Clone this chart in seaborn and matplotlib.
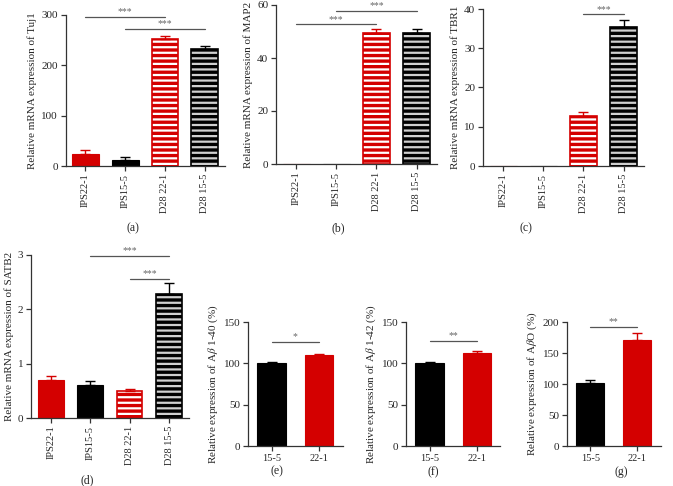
import matplotlib
matplotlib.use('Agg')
import matplotlib.pyplot as plt
from matplotlib.patches import Rectangle
import seaborn as sns
import numpy as np

# data
groups4 = ["IPS22-1", "IPS15-5", "D28 22-1", "D28 15-5"]
groups2 = ["15-5", "22-1"]

tuj1_mean = [24, 11, 253, 232]
tuj1_err = [7, 7, 6, 6]
map2_mean = [0, 0, 49.6, 49.6]
map2_err = [0, 0, 1.3, 1.3]
tbr1_mean = [0, 0, 12.8, 35.5]
tbr1_err = [0, 0, 0.9, 1.7]
satb2_mean = [0.70, 0.61, 0.49, 2.28]
satb2_err = [0.08, 0.07, 0.04, 0.20]

ab40_mean = [100, 110]
ab40_err = [1.5, 1.5]
ab42_mean = [100, 113]
ab42_err = [1.2, 1.6]
abo_mean = [101, 171]
abo_err = [6, 11]

# significance brackets: (from, to, height, stars)
tuj1_sig = [(0, 2, 296, "***"), (1, 3, 272, "***")]
map2_sig = [(0, 2, 52.7, "***"), (1, 3, 57.7, "***")]
tbr1_sig = [(2, 3, 38.6, "***")]
satb2_sig = [(1, 3, 2.98, "***"), (2, 3, 2.56, "***")]
ab40_sig = [(0, 1, 126, "*")]
ab42_sig = [(0, 1, 127, "**")]
abo_sig = [(0, 1, 192, "**")]

RED = "#d40000"
BLACK = "#000000"
colors4 = [RED, BLACK, RED, BLACK]
striped4 = [False, False, True, True]
colors2 = [BLACK, RED]
striped2 = [False, False]

sns.set_style("ticks")
plt.rcParams['font.family'] = ['Liberation Serif', 'DejaVu Serif']
plt.rcParams['mathtext.fontset'] = 'stix'
plt.rcParams['hatch.linewidth'] = 1.6
plt.rcParams['axes.edgecolor'] = '#333333'
plt.rcParams['axes.linewidth'] = 0.9

W, H = 673, 486
fig = plt.figure(figsize=(W / 100, H / 100), dpi=100)


def make_ax(left, top, bottom, xlim, ppu):
    width = (xlim[1] - xlim[0]) * ppu
    ax = fig.add_axes([left / W, 1 - bottom / H, width / W, (bottom - top) / H])
    ax.set_xlim(*xlim)
    return ax


def panel(ax, cats, means, errs, colors, striped, ylim, yticks, ylabel, sigs,
          bar_width, rotate):
    sns.barplot(x=cats, y=means, hue=cats, palette=colors, ax=ax, errorbar=None,
                legend=False, saturation=1, width=bar_width, order=cats, hue_order=cats)
    bars = sorted(ax.patches, key=lambda p: p.get_x())
    for p, c, s in zip(bars, colors, striped):
        p.set_facecolor(c)
        if s:
            stripe = "white" if c == RED else "#d0d0d0"
            p.set_hatch('---')
            p.set_edgecolor(stripe)
            p.set_linewidth(0)
            ax.add_patch(Rectangle(p.get_xy(), p.get_width(), p.get_height(),
                                   fill=False, ec=c, lw=1.2, zorder=p.get_zorder() + 0.1))
        else:
            p.set_edgecolor(c)
            p.set_linewidth(0.8)
    for i, (m, e, c) in enumerate(zip(means, errs, colors)):
        if e > 0:
            ax.errorbar(i, m, yerr=[[0], [e]], fmt='none', ecolor=c,
                        elinewidth=1.0, capsize=3.5, capthick=1.0, zorder=5)
    for x1, x2, y, stars in sigs:
        ax.plot([x1, x2], [y, y], color='#555555', lw=0.9, clip_on=False)
        ax.annotate(stars, ((x1 + x2) / 2, y), xytext=(0, 0.5), textcoords='offset points',
                    ha='center', va='bottom', fontsize=7, color='#666666',
                    annotation_clip=False)
    ax.set_ylim(*ylim)
    ax.set_yticks(yticks)
    ax.set_ylabel(ylabel, fontsize=8, labelpad=3)
    ax.set_xlabel("")
    ax.tick_params(axis='both', direction='out', length=3.5, width=0.9,
                   color='#333333', labelsize=7.5, pad=2)
    ax.tick_params(axis='y', labelsize=8)
    if rotate:
        ax.tick_params(axis='x', labelrotation=90)
    sns.despine(ax=ax)


ax_a = make_ax(65.5, 15, 166, (-0.55, 3.38), 40.5)
panel(ax_a, groups4, tuj1_mean, tuj1_err, colors4, striped4, (0, 300), [0, 100, 200, 300],
      "Relative mRNA expression of Tuj1", tuj1_sig, 0.67, True)

ax_b = make_ax(276, 5, 164, (-0.52, 3.45), 40.5)
panel(ax_b, groups4, map2_mean, map2_err, colors4, striped4, (0, 60), [0, 20, 40, 60],
      "Relative mRNA expression of MAP2", map2_sig, 0.67, True)

ax_c = make_ax(483, 9, 166, (-0.54, 3.38), 41)
panel(ax_c, groups4, tbr1_mean, tbr1_err, colors4, striped4, (0, 40), [0, 10, 20, 30, 40],
      "Relative mRNA expression of TBR1", tbr1_sig, 0.67, True)

ax_d = make_ax(31, 255, 418, (-0.5, 3.35), 41)
panel(ax_d, groups4, satb2_mean, satb2_err, colors4, striped4, (0, 3), [0, 1, 2, 3],
      "Relative mRNA expression of SATB2", satb2_sig, 0.65, True)

ax_e = make_ax(248, 322, 446, (-0.66, 1.42), 45.5)
panel(ax_e, groups2, ab40_mean, ab40_err, colors2, striped2, (0, 150), [0, 50, 100, 150],
      r"Relative expression of A$\beta$ 1-40 (%)", ab40_sig, 0.6, False)

ax_f = make_ax(406, 322, 446, (-0.7, 1.4), 45)
panel(ax_f, groups2, ab42_mean, ab42_err, colors2, striped2, (0, 150), [0, 50, 100, 150],
      r"Relative expression of A$\beta$ 1-42 (%)", ab42_sig, 0.6, False)

ax_g = make_ax(567, 322, 446, (-0.68, 1.4), 45)
panel(ax_g, groups2, abo_mean, abo_err, colors2, striped2, (0, 200), [0, 50, 100, 150, 200],
      r"Relative expression of A$\beta$O (%)", abo_sig, 0.6, False)

for lab, x, y in [("(a)", 133, 228), ("(b)", 338, 228), ("(c)", 526, 228),
                  ("(d)", 87, 480), ("(e)", 277, 471), ("(f)", 433, 472), ("(g)", 621, 472)]:
    fig.text(x / W, 1 - y / H, lab, ha='center', va='center', fontsize=8.5)

fig.savefig("out.png", dpi=100)
